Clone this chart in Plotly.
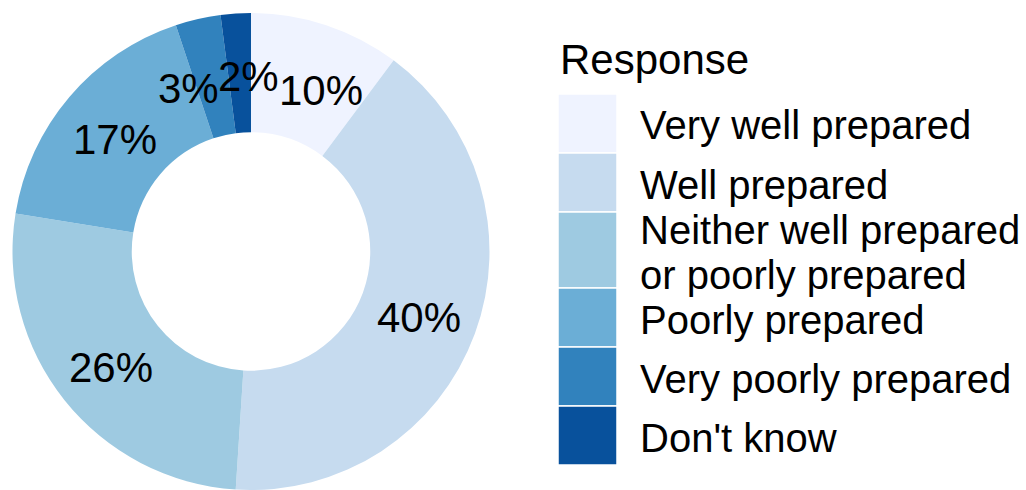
import math
import plotly.graph_objects as go

# Survey responses and their shares (%)
responses = [
    "Very well prepared",
    "Well prepared",
    "Neither well prepared\nor poorly prepared",
    "Poorly prepared",
    "Very poorly prepared",
    "Don't know",
]
shares = [10, 40, 26, 17, 3, 2]
colors = ["#eff3ff", "#c6dbef", "#9ecae1", "#6baed6", "#3182bd", "#08519c"]
legend_title = "Response"

W, H = 1026, 490
M_TOP = 13
PLOT_H = H - M_TOP

FONT = "Liberation Sans, Arial, sans-serif"
LABEL_SIZE = 42
LEGEND_SIZE = 40
TITLE_SIZE = 42
# plotly centres the whole text box (descenders included); nudge so glyphs sit centred
BASELINE_SHIFT = 0.1

# donut geometry (pixels)
CX = 251.0
R_OUT = PLOT_H / 2
CY = M_TOP + R_OUT
HOLE = 0.5
R_LABEL = R_OUT * (1 + HOLE) / 2


def px(x):
    return x / W


def py(y):
    return (H - y) / PLOT_H


fig = go.Figure()
fig.add_trace(go.Pie(
    labels=[r.replace("\n", " ") for r in responses],
    values=shares,
    marker=dict(colors=colors, line=dict(width=0)),
    hole=HOLE,
    sort=False,
    direction="clockwise",
    rotation=0,
    textinfo="none",
    hovertemplate="%{label}: %{value}%<extra></extra>",
    domain=dict(x=[(CX - R_OUT) / W, (CX + R_OUT) / W], y=[0, 1]),
    showlegend=False,
))

# percentage labels: start at slice mid-angles, then push apart any overlaps
total = sum(shares)
texts = [f"{v}%" for v in shares]
widths = [LABEL_SIZE * (0.556 * (len(t) - 1) + 0.889) for t in texts]
angles = []
acc = 0
for v in shares:
    angles.append((acc + v / 2) / total * 2 * math.pi)
    acc += v


def pos(a):
    return CX + R_LABEL * math.sin(a), CY - R_LABEL * math.cos(a)


n = len(shares)
for _ in range(400):
    moved = False
    for i in range(n):
        j = (i + 1) % n
        xi, yi = pos(angles[i])
        xj, yj = pos(angles[j])
        ox = (widths[i] + widths[j]) / 2 - abs(xi - xj)
        oy = LABEL_SIZE * 0.75 - abs(yi - yj)
        if ox > 0.5 and oy > 0:
            step = 0.002
            angles[i] -= step
            angles[j] += step
            moved = True
    if not moved:
        break

for t, a in zip(texts, angles):
    x, y = pos(a)
    fig.add_annotation(
        x=px(x), y=py(y + BASELINE_SHIFT * LABEL_SIZE), xref="paper", yref="paper",
        text=t, showarrow=False, xanchor="center", yanchor="middle",
        font=dict(family=FONT, size=LABEL_SIZE, color="#000000"),
    )

# legend: title, colour keys and labels
KEY_X0, KEY_X1 = 558, 617
KEY_TOP = 94
ROW_H = 59
EXTRA_LINE_H = 17
LINE_GAP = 45
TEXT_X = 638

fig.add_annotation(
    x=px(558), y=py(57 + BASELINE_SHIFT * TITLE_SIZE * 0.5), xref="paper", yref="paper",
    text=legend_title, showarrow=False, xanchor="left", yanchor="middle",
    font=dict(family=FONT, size=TITLE_SIZE, color="#000000"),
)

top = KEY_TOP
for label, col in zip(responses, colors):
    lines = label.split("\n")
    h = ROW_H + EXTRA_LINE_H * (len(lines) - 1)
    fig.add_shape(
        type="rect", xref="paper", yref="paper",
        x0=px(KEY_X0), x1=px(KEY_X1), y0=py(top), y1=py(top + h),
        fillcolor=col, line=dict(color="white", width=1.5),
    )
    mid = top + h / 2
    first = mid - LINE_GAP * (len(lines) - 1) / 2
    for k, line in enumerate(lines):
        fig.add_annotation(
            x=px(TEXT_X), y=py(first + k * LINE_GAP + BASELINE_SHIFT * LEGEND_SIZE * 0.5),
            xref="paper", yref="paper",
            text=line, showarrow=False, xanchor="left", yanchor="middle",
            font=dict(family=FONT, size=LEGEND_SIZE, color="#000000"),
        )
    top += h

fig.update_layout(
    width=W, height=H,
    margin=dict(l=0, r=0, t=M_TOP, b=0),
    paper_bgcolor="white",
    plot_bgcolor="white",
    showlegend=False,
)

fig.write_html("out.html")
